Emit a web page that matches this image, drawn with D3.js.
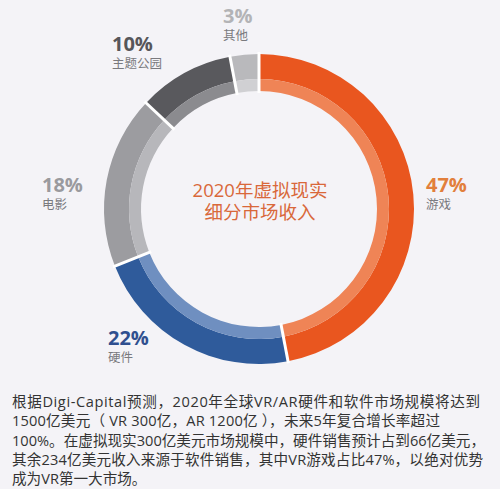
<!DOCTYPE html>
<html><head><meta charset="utf-8">
<script src="https://cdn.jsdelivr.net/npm/d3@7"></script>
<style>
html,body{margin:0;padding:0;background:#f4f3f7;}
svg{display:block;}
text{font-family:"Open Sans","Noto Sans CJK SC",sans-serif;}
</style></head>
<body>
<svg id="c" width="500" height="489"></svg>
<script>
const categories = ["游戏","硬件","电影","主题公园","其他"];
const values = [47, 22, 18, 10, 3];
const pctLabels = ["47%","22%","18%","10%","3%"];
const outerColors = ["#e9561f","#2f5b9b","#9c9ca0","#59595d","#b9b9bc"];
const innerColors = ["#ef8456","#6f8fc0","#b7b7bb","#8b8b8f","#d0d0d3"];
const pctColors = ["#e27f3c","#2f4f8f","#9a9a9e","#56565a","#b3b3b6"];
const titleLines = ["2020年虚拟现实","细分市场收入"];
const paragraph = [
  "根据Digi-Capital预测，2020年全球VR/AR硬件和软件市场规模将达到",
  "1500亿美元（ VR 300亿，AR 1200亿 ），未来5年复合增长率超过",
  "100%。在虚拟现实300亿美元市场规模中，硬件销售预计占到66亿美元，",
  "其余234亿美元收入来源于软件销售，其中VR游戏占比47%，以绝对优势",
  "成为VR第一大市场。"
];
// layout (not data): label anchors and paragraph line widths
const labelPos = [[426,192],[108,345],[42,192],[112,51],[223,23]];
const lineWidths = [468, 428, 473, 471, null];

const svg = d3.select("#c");
svg.append("rect").attr("width",500).attr("height",489).attr("fill","#f4f3f7");
const cx = 259, cy = 209, R = 155, Rm = 130, Ri = 118;
const g = svg.append("g").attr("transform",`translate(${cx},${cy})`);
const pie = d3.pie().value(d=>d).sort(null);
const arcs = pie(values);
const outerArc = d3.arc().innerRadius(Rm).outerRadius(R);
const innerArc = d3.arc().innerRadius(Ri).outerRadius(Rm);
g.selectAll("path.o").data(arcs).join("path").attr("class","o")
  .attr("d",outerArc).attr("fill",(d,i)=>outerColors[i]);
g.selectAll("path.i").data(arcs).join("path").attr("class","i")
  .attr("d",innerArc).attr("fill",(d,i)=>innerColors[i]);
g.selectAll("line.sep").data(arcs).join("line").attr("class","sep")
  .attr("x1",d=>(Ri-2)*Math.sin(d.startAngle)).attr("y1",d=>-(Ri-2)*Math.cos(d.startAngle))
  .attr("x2",d=>(R+2)*Math.sin(d.startAngle)).attr("y2",d=>-(R+2)*Math.cos(d.startAngle))
  .attr("stroke","#ffffff").attr("stroke-width",3);

// center title
g.selectAll("text.t").data(titleLines).join("text").attr("class","t")
  .attr("x",1).attr("y",(d,i)=>-12+i*22).attr("text-anchor","middle")
  .attr("font-size",18.5).attr("fill","#d9683a").text(d=>d);

// labels
categories.forEach((c,i)=>{
  const [x,y]=labelPos[i];
  svg.append("text").attr("x",x).attr("y",y).attr("font-size",20).attr("font-weight","bold")
    .attr("fill",pctColors[i]).text(pctLabels[i]);
  svg.append("text").attr("x",x).attr("y",y+17).attr("font-size",12.5)
    .attr("fill","#7a7a7e").text(c);
});

// paragraph
svg.selectAll("text.p").data(paragraph).join("text").attr("class","p")
  .attr("x",12).attr("y",(d,i)=>407+i*19.3).attr("font-size",14.6)
  .attr("fill","#333333")
  .each(function(d,i){ if(lineWidths[i]) d3.select(this).attr("textLength",lineWidths[i]).attr("lengthAdjust","spacing"); })
  .text(d=>d);
</script>
</body></html>
